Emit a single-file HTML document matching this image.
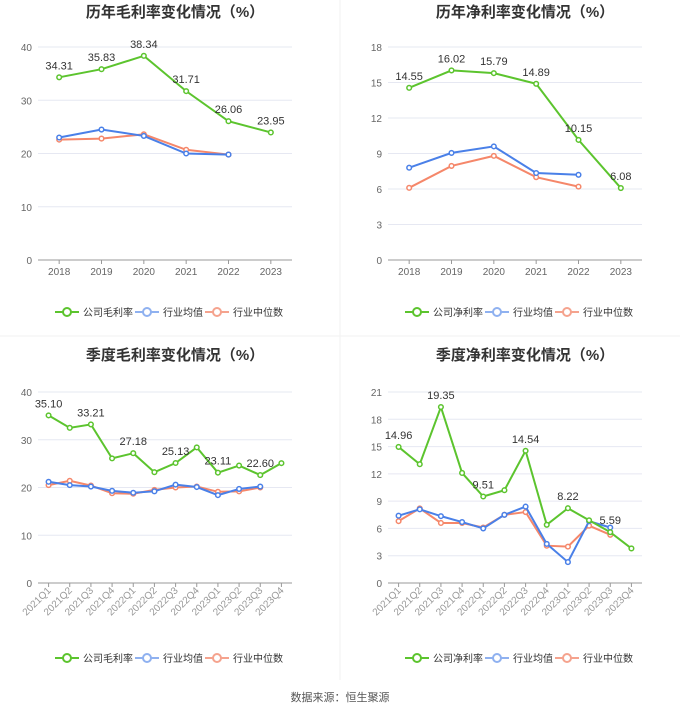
<!DOCTYPE html>
<html><head><meta charset="utf-8"><style>
body{margin:0;background:#fff;font-family:"Liberation Sans","Noto Sans CJK SC",sans-serif;}
svg text{font-family:"Liberation Sans","Noto Sans CJK SC",sans-serif;}
</style></head><body>
<svg id="s" width="680" height="712" xmlns="http://www.w3.org/2000/svg">
<line x1="340" y1="0" x2="340" y2="680" stroke="#f2f2f2"/>
<line x1="0" y1="336" x2="680" y2="336" stroke="#f2f2f2"/>
<text x="340" y="701" text-anchor="middle" font-size="11" fill="#555">数据来源：恒生聚源</text>
</svg>
<script>
const annualCats=["2018","2019","2020","2021","2022","2023"];
const quarterCats=["2021Q1","2021Q2","2021Q3","2021Q4","2022Q1","2022Q2","2022Q3","2022Q4","2023Q1","2023Q2","2023Q3","2023Q4"];
const grossCompany=[34.31,35.83,38.34,31.71,26.06,23.95];
const grossAvg=[23.0,24.5,23.3,20.0,19.8];
const grossMedian=[22.6,22.8,23.6,20.7,19.8];
const grossLabels=[true,true,true,true,true,true];
const grossTicks=[0,10,20,30,40];
const netCompany=[14.55,16.02,15.79,14.89,10.15,6.08];
const netAvg=[7.8,9.05,9.6,7.35,7.2];
const netMedian=[6.1,7.95,8.8,7.0,6.2];
const netLabels=[true,true,true,true,true,true];
const netTicks=[0,3,6,9,12,15,18];
const qGrossCompany=[35.10,32.5,33.21,26.1,27.18,23.2,25.13,28.4,23.11,24.6,22.60,25.1];
const qGrossAvg=[21.2,20.5,20.2,19.3,18.9,19.2,20.6,20.1,18.4,19.7,20.2];
const qGrossMedian=[20.5,21.4,20.4,18.8,18.7,19.5,20.0,20.2,19.1,19.2,20.0];
const qGrossLabels=[true,false,true,false,true,false,true,false,true,false,true,false];
const qGrossTicks=[0,10,20,30,40];
const qNetCompany=[14.96,13.06,19.35,12.1,9.51,10.2,14.54,6.4,8.22,6.9,5.59,3.8];
const qNetAvg=[7.4,8.1,7.35,6.7,6.0,7.5,8.4,4.3,2.3,6.8,6.1];
const qNetMedian=[6.8,8.2,6.6,6.6,6.1,7.5,7.8,4.1,4.0,6.3,5.3];
const qNetLabels=[true,false,true,false,true,false,true,false,true,false,true,false];
const qNetTicks=[0,3,6,9,12,15,18,21];

const svg=document.getElementById('s');
const NS="http://www.w3.org/2000/svg";
function mk(tag,attrs,parent){const e=document.createElementNS(NS,tag);for(const k in attrs)e.setAttribute(k,attrs[k]);(parent||svg).appendChild(e);return e;}

function chart(o){
  const g=mk('g',{});
  
  
  const L=o.x0,R=o.x1,T=o.top,B=o.bottom,max=o.ticks[o.ticks.length-1];
  const n=o.cats.length,step=(R-L)/n;
  const xs=i=>L+step*(i+0.5);
  const ys=v=>B-(v/max)*(B-T);
  const t=mk('text',{x:(L+R)/2+10,y:o.titleY,'text-anchor':'middle','font-size':'15','font-weight':'bold',fill:'#333'},g);
  t.textContent=o.title;
  
  
  o.ticks.forEach(v=>{
    const y=ys(v);
    if(v>0){const l=mk('line',{x1:L,x2:R,y1:y,y2:y,stroke:'#e6e8f2'},g);
      
      }
    const tx=mk('text',{x:L-6,y:y+4,'text-anchor':'end','font-size':'10',fill:'#666'},g);
    tx.textContent=v;
    
    
  });
  const ax=mk('line',{x1:L,x2:R,y1:B,y2:B,stroke:'#999'},g);
  
  
  o.cats.forEach((c,i)=>{
    const x=xs(i);
    mk('line',{x1:x,x2:x,y1:B,y2:B+4,stroke:'#999'},g);
    let tx;
    if(o.rot){tx=mk('text',{x:x+3,y:B+8,'text-anchor':'end','font-size':'10',fill:'#999',transform:`rotate(-45 ${x+3} ${B+8})`},g);}
    else tx=mk('text',{x:x,y:B+15,'text-anchor':'middle','font-size':'10',fill:'#666'},g);
    tx.textContent=c;
    
    
  });
  const series=[[o.med,'#f5876a','median'],[o.avg,'#4a80e8','average'],[o.comp,'#5cc42e','company']];
  series.forEach(([d,col,nm])=>{
    const p=mk('polyline',{points:d.map((v,i)=>xs(i)+','+ys(v)).join(' '),fill:'none',stroke:col,'stroke-width':'2'},g);
    
    
    d.forEach((v,i)=>{
      const c=mk('circle',{cx:xs(i),cy:ys(v),r:2.3,fill:'#fff',stroke:col,'stroke-width':'1.5'},g);
      
      
    });
  });
  o.comp.forEach((v,i)=>{
    if(!o.labels[i])return;
    const tx=mk('text',{x:xs(i),y:ys(v)-8,'text-anchor':'middle','font-size':'11',fill:'#333'},g);
    tx.textContent=v.toFixed(2);
    
    
  });
  const items=[[o.compName,'#5cc42e',o.legX],['行业均值','#8fb1f0',o.legX+80],['行业中位数','#f5a38e',o.legX+150]];
  items.forEach(([lab,col,lx])=>{
    const lg=mk('g',{},g);
    
    
    mk('line',{x1:lx,x2:lx+24,y1:o.legY,y2:o.legY,stroke:col,'stroke-width':'2'},lg);
    mk('circle',{cx:lx+12,cy:o.legY,r:4,fill:'#fff',stroke:col,'stroke-width':'2'},lg);
    const tx=mk('text',{x:lx+28,y:o.legY+4,'font-size':'10',fill:'#333'},lg);
    tx.textContent=lab;
  });
}
chart({name:'annual-gross-margin-chart',title:'历年毛利率变化情况（%）',titleY:17,x0:38,x1:292,top:47,bottom:260,cats:annualCats,ticks:grossTicks,comp:grossCompany,avg:grossAvg,med:grossMedian,labels:grossLabels,rot:false,compName:'公司毛利率',legX:55,legY:312});
chart({name:'annual-net-margin-chart',title:'历年净利率变化情况（%）',titleY:17,x0:388,x1:642,top:47,bottom:260,cats:annualCats,ticks:netTicks,comp:netCompany,avg:netAvg,med:netMedian,labels:netLabels,rot:false,compName:'公司净利率',legX:405,legY:312});
chart({name:'quarterly-gross-margin-chart',title:'季度毛利率变化情况（%）',titleY:360,x0:38,x1:292,top:392,bottom:583,cats:quarterCats,ticks:qGrossTicks,comp:qGrossCompany,avg:qGrossAvg,med:qGrossMedian,labels:qGrossLabels,rot:true,compName:'公司毛利率',legX:55,legY:658});
chart({name:'quarterly-net-margin-chart',title:'季度净利率变化情况（%）',titleY:360,x0:388,x1:642,top:392,bottom:583,cats:quarterCats,ticks:qNetTicks,comp:qNetCompany,avg:qNetAvg,med:qNetMedian,labels:qNetLabels,rot:true,compName:'公司净利率',legX:405,legY:658});
</script>
</body></html>
